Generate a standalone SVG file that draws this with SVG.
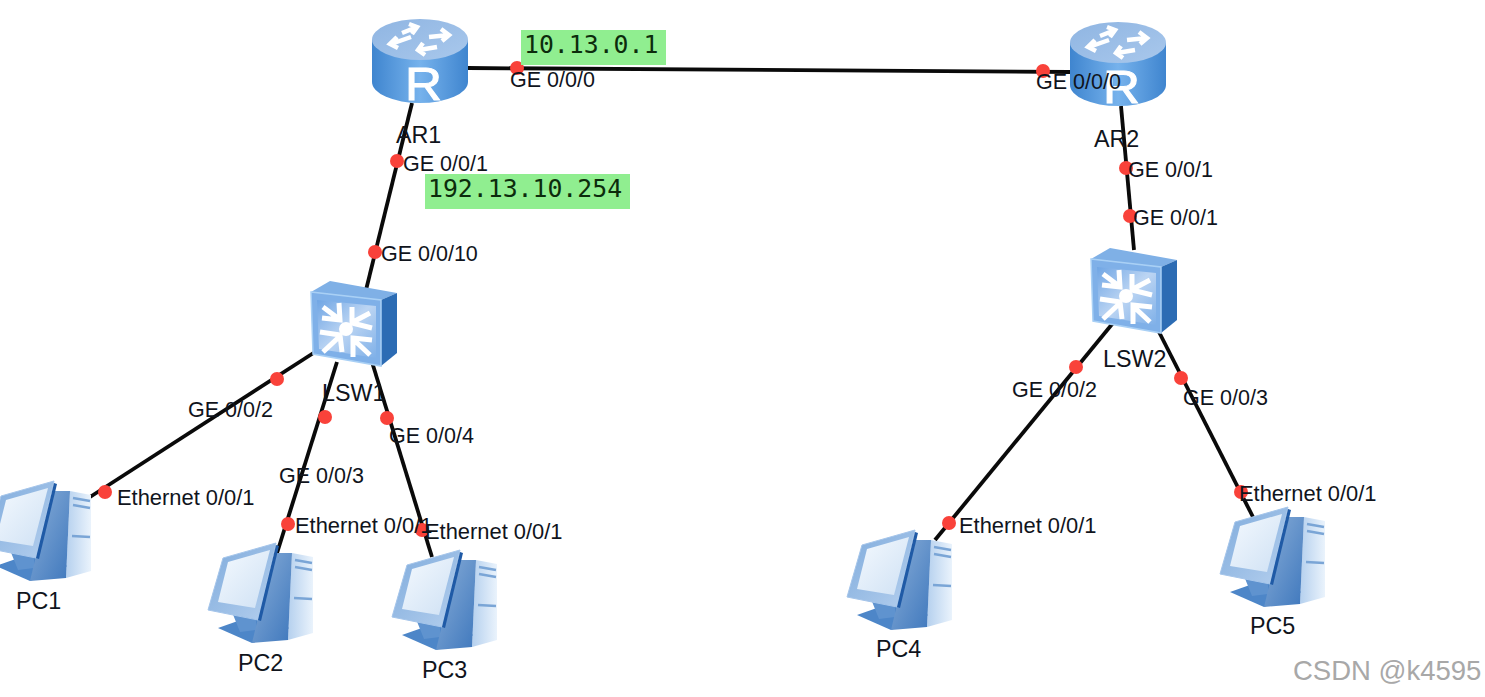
<svg xmlns="http://www.w3.org/2000/svg" xmlns:xlink="http://www.w3.org/1999/xlink" width="1485" height="697" viewBox="0 0 1485 697">
<style>
.link{stroke:#0a0a0a;stroke-width:3.8;fill:none}
.dot{fill:#f9423a}
text{font-family:"Liberation Sans",Arial,sans-serif;font-size:21.5px;fill:#10141c}
.eth{font-size:21.9px}
.name{font-size:23.3px}
.ip{font-family:"DejaVu Sans Mono","Liberation Mono",monospace;font-size:24.8px;fill:#0c2c0c}
.ipbg{fill:#90ee90}
.wm{font-size:27.5px;fill:#a8a8a8}
.rarrow{fill:none;stroke:#fff;stroke-width:4.5}
.sarrow{fill:none;stroke:#fff;stroke-width:5}
</style>
<defs>
<linearGradient id="rBody" x1="0" x2="1" y1="0" y2="0"><stop offset="0" stop-color="#3f85cf"/><stop offset=".5" stop-color="#76b2ec"/><stop offset="1" stop-color="#3f85cf"/></linearGradient>
<linearGradient id="rTop" x1="0" x2="1" y1="0" y2="1"><stop offset="0" stop-color="#8fb5e2"/><stop offset="1" stop-color="#a9c8ec"/></linearGradient>
<linearGradient id="sFront" x1="0" x2="1" y1="0" y2="1"><stop offset="0" stop-color="#6fa5e4"/><stop offset=".5" stop-color="#bcd5f3"/><stop offset="1" stop-color="#7fb0e8"/></linearGradient>
<linearGradient id="pcTower" x1="0" x2="1" y1="0" y2="0"><stop offset="0" stop-color="#b5d0ee"/><stop offset="1" stop-color="#eaf3fc"/></linearGradient>
<linearGradient id="pcSide" x1="0" x2="1" y1="0" y2="1"><stop offset="0" stop-color="#8aaed8"/><stop offset="1" stop-color="#3f78bd"/></linearGradient>
<linearGradient id="pcScreen" x1="0" x2="1" y1="0" y2="1"><stop offset="0" stop-color="#f4f9fe"/><stop offset="1" stop-color="#cfe1f4"/></linearGradient>
<linearGradient id="pcFrame" x1="0" x2="1" y1="0" y2="1"><stop offset="0" stop-color="#7fabdc"/><stop offset="1" stop-color="#b4cfee"/></linearGradient>
<g id="router">
<path d="M372 40V82A48 21 0 0 0 468 82V40Z" fill="url(#rBody)"/>
<ellipse cx="420" cy="39.5" rx="48" ry="20.5" fill="url(#rTop)"/>
<g class="rarrow">
<path d="M411 37L391 44M397 37L390 44L398 48"/>
<path d="M402 33L417 27M409 24L417 27L412 34"/>
<path d="M429 37L449 35M441 29L449 35L442 41"/>
<path d="M437 47L419 50M423 43L418 50L425 55"/>
</g>
<text x="405" y="100" textLength="37" lengthAdjust="spacingAndGlyphs" style="font-size:47px;fill:#fff;stroke:#fff;stroke-width:1">R</text>
</g>
<g id="switch">
<path d="M311 292L330 281L397 293L381 300Z" fill="#7fb0e6"/>
<path d="M381 300L397 293V353L381 366Z" fill="#2c6cb4"/>
<path d="M311 292L381 300V366L313 354Z" fill="#7fb0e8" stroke="#a9d0f5" stroke-width="1.5"/>
<path d="M317 300L376 306V358L319 349Z" fill="url(#sFront)"/>
<circle cx="346" cy="329" r="7" fill="#fff"/>
<g class="sarrow">
<path d="M323 307L339 319M339 303L340 320L322 318"/>
<path d="M370 313L353 322M352 307L352 323L372 328"/>
<path d="M323 352L339 337M320 332L340 335L342 352"/>
<path d="M370 355L354 340M372 340L353 338L353 357"/>
</g>
</g>
<g id="pc">
<path d="M218 628L252 616L290 628L252 643Z" fill="#4d86c8"/>
<path d="M232 612H256V630L240 632Z" fill="#5f93cf"/>
<path d="M292 553L313 557V633L288 640Z" fill="url(#pcTower)"/>
<path d="M275 553L292 553L288 640L252 643L258 618Z" fill="url(#pcSide)"/>
<path d="M295 560L312 563M295 567L312 570M294 598L312 599" stroke="#7aa5d6" stroke-width="2.5" fill="none"/>
<path d="M223 558L276 543L258 620L208 610Z" fill="url(#pcFrame)" stroke="#a5c5ea" stroke-width="1" stroke-linejoin="round"/>
<path d="M276 545L279 546L261 621L258 620Z" fill="#1f5aa6"/>
<path d="M228 562L270 550L255 608L218 602Z" fill="url(#pcScreen)"/>
</g>
</defs>
<g id="connectors">
<path class="link" d="M468 68L1070 72"/>
<path class="link" d="M412 103L366 290"/>
<path class="link" d="M315 352L90 497"/>
<path class="link" d="M337 362L277 553"/>
<path class="link" d="M372 362L432 557"/>
<path class="link" d="M1121 106L1134 250"/>
<path class="link" d="M1113 323L935 540"/>
<path class="link" d="M1158 330L1253 517"/>
</g>
<g id="AR1"><use xlink:href="#router" href="#router"/><text class="name" x="396" y="143">AR1</text></g>
<g id="AR2"><use xlink:href="#router" href="#router" transform="translate(698 3)"/><text class="name" x="1094" y="147">AR2</text></g>
<g id="LSW1"><use xlink:href="#switch" href="#switch"/><text class="name" x="322" y="401">LSW1</text></g>
<g id="LSW2"><use xlink:href="#switch" href="#switch" transform="translate(780 -33)"/><text class="name" x="1103" y="367">LSW2</text></g>
<g id="PC1"><use xlink:href="#pc" href="#pc" transform="translate(-222 -62)"/><text class="name" x="16" y="609">PC1</text></g>
<g id="PC2"><use xlink:href="#pc" href="#pc"/><text class="name" x="238" y="671">PC2</text></g>
<g id="PC3"><use xlink:href="#pc" href="#pc" transform="translate(184 7)"/><text class="name" x="422" y="678">PC3</text></g>
<g id="PC4"><use xlink:href="#pc" href="#pc" transform="translate(639 -13)"/><text class="name" x="876" y="657">PC4</text></g>
<g id="PC5"><use xlink:href="#pc" href="#pc" transform="translate(1012 -36)"/><text class="name" x="1250" y="634">PC5</text></g>
<g id="ports">
<g class="dot">
<circle cx="517" cy="68" r="7"/><circle cx="1043" cy="71" r="7"/><circle cx="397" cy="161" r="7"/><circle cx="375" cy="252" r="7"/><circle cx="277" cy="379" r="7"/><circle cx="105" cy="492" r="7"/><circle cx="325" cy="417" r="7"/><circle cx="288" cy="524" r="7"/><circle cx="387" cy="418" r="7"/><circle cx="422" cy="530" r="7"/><circle cx="1126" cy="168" r="7"/><circle cx="1130" cy="216" r="7"/><circle cx="1076" cy="367" r="7"/><circle cx="949" cy="523" r="7"/><circle cx="1181" cy="378" r="7"/><circle cx="1241" cy="492" r="7"/>
</g>
<text x="510" y="87">GE 0/0/0</text>
<text x="1036" y="89">GE 0/0/0</text>
<text x="403" y="171">GE 0/0/1</text>
<text x="381" y="261">GE 0/0/10</text>
<text x="188" y="417">GE 0/0/2</text>
<text x="279" y="483">GE 0/0/3</text>
<text x="389" y="443">GE 0/0/4</text>
<text class="eth" x="117" y="505">Ethernet 0/0/1</text>
<text class="eth" x="295" y="533">Ethernet 0/0/1</text>
<text class="eth" x="425" y="539">Ethernet 0/0/1</text>
<text x="1128" y="177">GE 0/0/1</text>
<text x="1133" y="225">GE 0/0/1</text>
<text x="1012" y="397">GE 0/0/2</text>
<text x="1183" y="405">GE 0/0/3</text>
<text class="eth" x="959" y="533">Ethernet 0/0/1</text>
<text class="eth" x="1239" y="501">Ethernet 0/0/1</text>
</g>
<g id="ip-labels">
<rect class="ipbg" x="521" y="30" width="145" height="35"/>
<text class="ip" x="524" y="53">10.13.0.1</text>
<rect class="ipbg" x="425" y="174" width="205" height="35"/>
<text class="ip" x="428" y="197">192.13.10.254</text>
</g>
<text class="wm" x="1293" y="680">CSDN @k4595</text>
</svg>
